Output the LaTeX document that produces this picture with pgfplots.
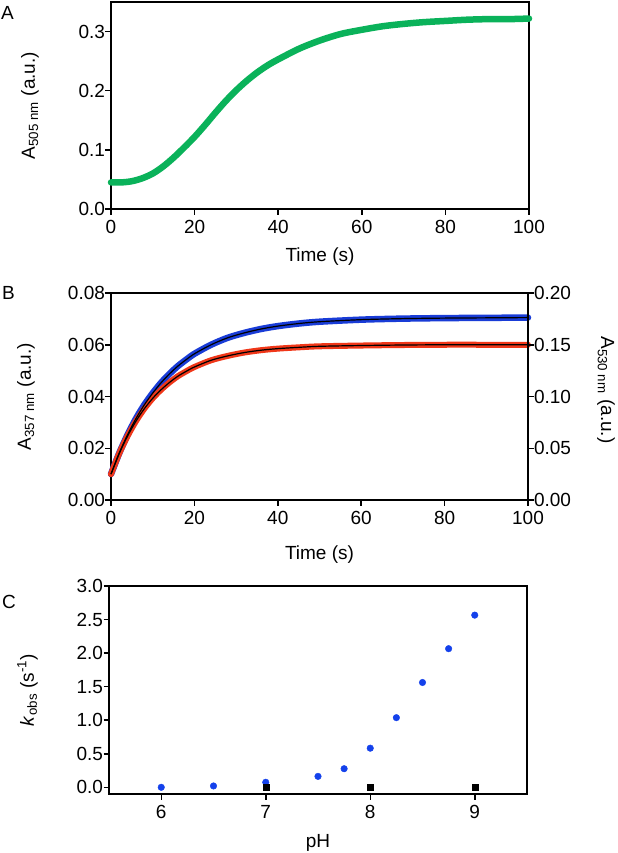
\documentclass[border=0pt]{standalone}
\usepackage{pgfplots}
\pgfplotsset{compat=1.18}
\usepackage{fontspec}
\setmainfont{Liberation Sans}
\definecolor{cgreen}{RGB}{10,178,90}
\definecolor{cblue}{RGB}{25,60,215}
\definecolor{cred}{RGB}{240,55,25}
\definecolor{cdot}{RGB}{20,65,235}
\newcommand{\lblfont}{\fontsize{19bp}{22bp}\selectfont}
\pgfplotsset{
  myaxis/.style={
    scale only axis, clip=false,
    axis line style={line width=1.5bp},
    every tick/.style={line width=1.5bp, black},
    tick align=outside, major tick length=5.5bp,
    xtick pos=bottom, ytick pos=left,
    scaled y ticks=false, scaled x ticks=false,
    /pgf/number format/assume math mode=true,
    tick label style={font=\lblfont},
    xticklabel style={yshift=-2bp},
  },
  fmt1/.style={yticklabel style={/pgf/number format/fixed, /pgf/number format/fixed zerofill, /pgf/number format/precision=1, xshift=3bp}},
  fmt2/.style={yticklabel style={/pgf/number format/fixed, /pgf/number format/fixed zerofill, /pgf/number format/precision=2, xshift=3bp}},
}
\pgfplotstableread{
t y
0 0.045
2.5 0.045
5 0.047
7.5 0.052
10 0.060
12.5 0.072
15 0.087
17.5 0.104
20 0.122
22.5 0.142
25 0.163
27.5 0.183
30 0.201
32.5 0.217
35 0.231
37.5 0.243
40 0.253
45 0.271
50 0.285
55 0.296
60 0.303
65 0.309
70 0.313
75 0.316
80 0.318
85 0.320
90 0.321
95 0.321
100 0.322
}\tableA
\pgfplotstableread{
t y
0 0.0100
2 0.0182
4 0.0253
6 0.0315
8 0.0368
10 0.0413
12 0.0453
14 0.0487
16 0.0517
18 0.0542
20 0.0565
24 0.0600
28 0.0627
32 0.0646
36 0.0661
40 0.0672
45 0.0682
50 0.0689
60 0.0697
70 0.0701
80 0.0703
90 0.0704
100 0.0705
}\tableBblue
\pgfplotstableread{
t y
0 0.0100
2 0.0181
4 0.0248
6 0.0305
8 0.0353
10 0.0393
12 0.0426
14 0.0454
16 0.0478
18 0.0497
20 0.0514
24 0.0540
28 0.0557
32 0.0570
36 0.0579
40 0.0585
45 0.0590
50 0.0594
60 0.0597
70 0.0599
80 0.0600
90 0.0600
100 0.0600
}\tableBred
\pgfplotstableread{
ph k
6.0 0.00
6.5 0.02
7.0 0.075
7.5 0.163
7.75 0.277
8.0 0.583
8.25 1.038
8.5 1.562
8.75 2.066
9.0 2.566
}\tableCblue
\pgfplotstableread{
ph k
7 0.0
8 0.0
9 0.0
}\tableCblack
\begin{document}
\begin{tikzpicture}
\path[use as bounding box] (0,0) rectangle (618bp,-853bp);
% Panel A
\begin{axis}[myaxis, fmt1, at={(111bp,-209bp)}, anchor=south west,
  width=418bp, height=207bp,
  xmin=0, xmax=100, ymin=0, ymax=0.35,
  xtick={0,20,40,60,80,100}, ytick={0,0.1,0.2,0.3},
  every axis x label/.style={at={(axis description cs:0.5,0)}, yshift=-48bp, anchor=center, font=\lblfont},
  every axis y label/.style={at={(axis description cs:0,0.5)}, xshift=-81bp, rotate=90, anchor=center, font=\lblfont},
  xlabel={Time (s)}, ylabel={A\textsubscript{505 nm} (a.u.)}]
\addplot[cgreen, line width=6.5bp, line cap=round, smooth] table[x=t,y=y] {\tableA};
\end{axis}
% Panel B
\begin{axis}[myaxis, fmt2, at={(111bp,-500bp)}, anchor=south west,
  width=417bp, height=207bp,
  xmin=0, xmax=100, ymin=0, ymax=0.08,
  xtick={0,20,40,60,80,100}, ytick={0,0.02,0.04,0.06,0.08},
  every axis x label/.style={at={(axis description cs:0.5,0)}, yshift=-55bp, anchor=center, font=\lblfont},
  every axis y label/.style={at={(axis description cs:0,0.5)}, xshift=-85bp, rotate=90, anchor=center, font=\lblfont},
  xlabel={Time (s)}, ylabel={A\textsubscript{357 nm} (a.u.)}]
\addplot[cblue, line width=6.5bp, line cap=round, smooth] table[x=t,y=y] {\tableBblue};
\addplot[cred, line width=6bp, line cap=round, smooth] table[x=t,y=y] {\tableBred};
\addplot[black, line width=1.2bp, smooth] table[x=t,y=y] {\tableBblue};
\addplot[black, line width=1.2bp, smooth] table[x=t,y=y] {\tableBred};
\end{axis}
\begin{axis}[myaxis, at={(111bp,-500bp)}, anchor=south west,
  width=417bp, height=207bp,
  xmin=0, xmax=100, ymin=0, ymax=0.2,
  axis y line*=right, axis x line=none,
  ytick pos=right,
  ytick={0,0.05,0.1,0.15,0.2},
  yticklabel style={/pgf/number format/fixed, /pgf/number format/fixed zerofill, /pgf/number format/precision=2, xshift=-3bp}]
\addplot[draw=none] coordinates {(0,0)};
\end{axis}
\node[rotate=-90, font=\lblfont] at (606bp,-390bp) {A\textsubscript{530 nm} (a.u.)};
% Panel C
\begin{axis}[myaxis, fmt1, at={(109bp,-794bp)}, anchor=south west,
  width=418bp, height=208bp,
  xmin=5.5, xmax=9.5, ymin=-0.1, ymax=3.0,
  xtick={6,7,8,9}, ytick={0,0.5,1,1.5,2,2.5,3},
  every axis x label/.style={at={(axis description cs:0.5,0)}, yshift=-49bp, anchor=center, font=\lblfont},
  every axis y label/.style={at={(axis description cs:0,0.5)}, xshift=-81.5bp, rotate=90, anchor=center, font=\lblfont},
  xlabel={pH}, ylabel={\textit{k}\textsubscript{obs} (s\textsuperscript{-1})}]
\addplot[only marks, mark=*, mark size=3.3bp, cdot] table[x=ph,y=k] {\tableCblue};
\addplot[only marks, mark=square*, mark size=3bp, black] table[x=ph,y=k] {\tableCblack};
\end{axis}
% Panel letters
\node[anchor=west, inner sep=0pt, font=\lblfont] at (1bp,-13bp) {A};
\node[anchor=west, inner sep=0pt, font=\lblfont] at (2bp,-293bp) {B};
\node[anchor=west, inner sep=0pt, font=\lblfont] at (2bp,-602bp) {C};
\end{tikzpicture}
\end{document}
